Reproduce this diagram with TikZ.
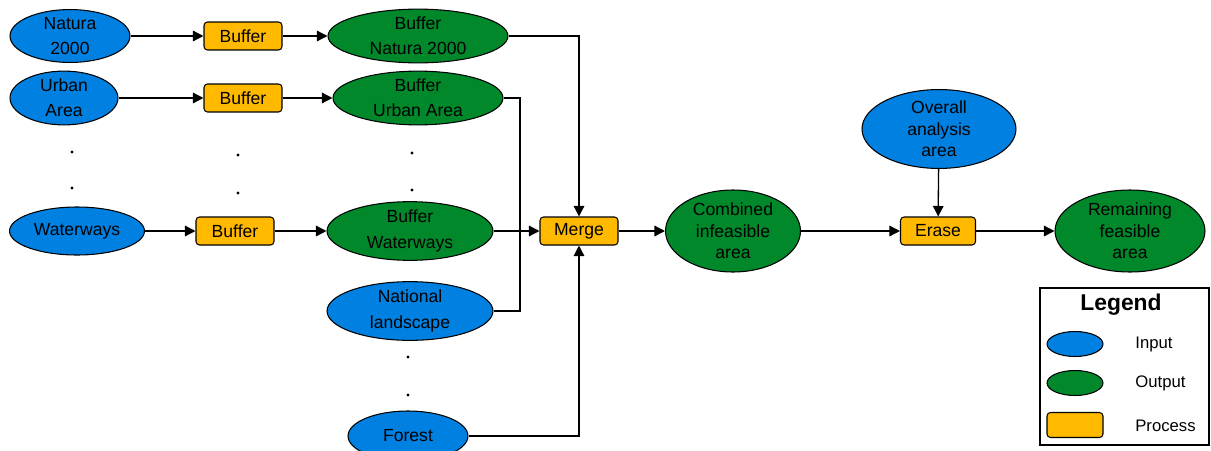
\documentclass[tikz,border=0pt]{standalone}
\usepackage{fontspec}
\setmainfont{Liberation Sans}
\usetikzlibrary{shapes.geometric,arrows.meta}

\definecolor{inblue}{RGB}{0,128,224}
\definecolor{outgreen}{RGB}{0,136,43}
\definecolor{procorange}{RGB}{255,186,0}

\begin{document}
\begin{tikzpicture}[x=0.02cm,y=-0.02cm,
    every node/.style={font=\fontsize{10}{14.3}\selectfont,align=center,inner sep=0pt},
    tight/.style={font=\fontsize{10}{12.2}\selectfont},
    inp/.style={ellipse,draw=black,line width=0.6pt,fill=inblue,minimum height=0.96cm},
    outp/.style={ellipse,draw=black,line width=0.6pt,fill=outgreen,minimum height=0.96cm},
    proc/.style={rectangle,rounded corners=2pt,draw=black,line width=0.6pt,fill=procorange,minimum width=1.56cm,minimum height=0.56cm},
    arr/.style={line width=0.75pt,-{Triangle[length=2.1mm,width=2.1mm]}},
    lin/.style={line width=0.75pt},
    vdot/.style={fill=black}]
                    \useasboundingbox (0,0) rectangle (1211,450);

                    \node[inp,minimum width=2.4cm]  (nat)   at (70,36)   {Natura\\2000};
                    \node[inp,minimum width=2.16cm] (urb)   at (64,98)   {Urban\\Area};
                    \node[inp,minimum width=2.7cm]  (wat)   at (77,231)  {Waterways};

                    \node[proc] (buf1) at (243,36)  {Buffer};
                    \node[proc] (buf2) at (243,98)  {Buffer};
                    \node[proc] (buf3) at (235,231) {Buffer};

                    \node[outp,minimum width=3.6cm]  (bnat) at (418,36)  {Buffer\\Natura 2000};
                    \node[outp,minimum width=3.4cm]  (burb) at (418,98)  {Buffer\\Urban Area};
                    \node[outp,minimum width=3.32cm] (bwat) at (410,231) {Buffer\\Waterways};

                    \node[inp,minimum width=3.32cm,minimum height=1.06cm] (nland)  at (410,311) {National\\landscape};
                    \node[inp,minimum width=2.4cm,minimum height=1.0cm]   (forest) at (408,436) {Forest};

                    \node[proc] (merge) at (579,231) {Merge};
                    \node[outp,tight,minimum width=2.7cm,minimum height=1.64cm]  (comb)  at (733,231) {Combined\\infeasible\\area};
                    \node[inp,tight,minimum width=3.08cm,minimum height=1.56cm]  (overall) at (939,129) {Overall\\analysis\\area};
                    \node[proc,minimum width=1.5cm] (erase) at (938,231) {Erase};
                    \node[outp,tight,minimum width=3.0cm,minimum height=1.64cm]  (remain) at (1130,231) {Remaining\\feasible\\area};

                    % dots between the rows
                    \foreach \x/\y in {72/152,72/188,238/155,238/193,412/153,412/190,408/357,408/395}
                        \fill[vdot] (\x,\y) circle (0.9pt);

                    \coordinate (jn) at (520,231);

                    \draw[arr] (nat) -- (buf1);
                    \draw[arr] (buf1) -- (bnat);
                    \draw[arr] (urb) -- (buf2);
                    \draw[arr] (buf2) -- (burb);
                    \draw[arr] (wat) -- (buf3);
                    \draw[arr] (buf3) -- (bwat);
                    \draw[arr] (bnat.east) -| (merge.north);
                    \draw[lin] (burb.east) -| (jn);
                    \draw[lin] (nland.east) -| (jn);
                    \draw[arr] (bwat) -- (merge);
                    \draw[arr] (forest.east) -| (merge.south);
                    \draw[arr] (merge) -- (comb);
                    \draw[arr] (comb) -- (erase);
                    \draw[arr] (overall) -- (erase);
                    \draw[arr] (erase) -- (remain);

                    % legend
                    \draw[line width=1.6pt] (1040,288) rectangle (1209,445);
                    \node[font=\fontsize{13}{15}\selectfont\bfseries] (legtitle) at (1121,305) {Legend};
                    \node[inp,minimum width=1.12cm,minimum height=0.5cm]  (legin)   at (1075,344) {};
                    \node[outp,minimum width=1.12cm,minimum height=0.5cm] (legout)  at (1075,383) {};
                    \node[proc,minimum width=1.12cm,minimum height=0.5cm] (legproc) at (1075,425) {};
                    \node[anchor=west,font=\fontsize{9.5}{11}\selectfont] (legintxt)   at (1135,344) {Input};
                    \node[anchor=west,font=\fontsize{9.5}{11}\selectfont] (legouttxt)  at (1135,383) {Output};
                    \node[anchor=west,font=\fontsize{9.5}{11}\selectfont] (legproctxt) at (1135,426) {Process};

                \end{tikzpicture}
\end{document}
